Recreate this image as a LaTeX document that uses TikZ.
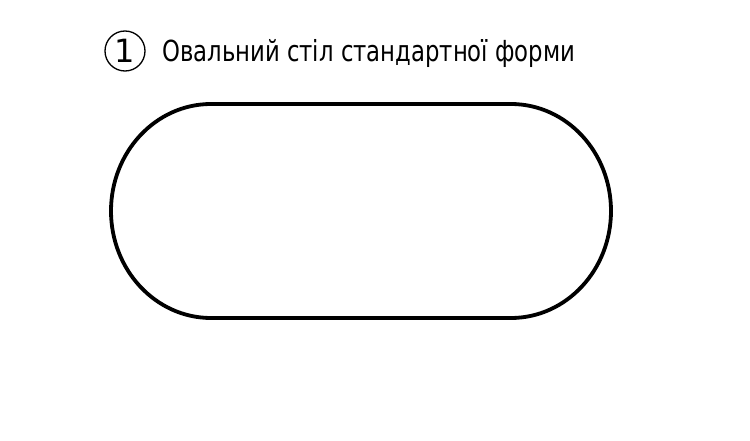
\documentclass[tikz,border=0pt]{standalone}
\usepackage{fontspec}
\setmainfont{DejaVu Sans}
\usetikzlibrary{positioning}
\tikzset{
	marker/.style={draw, circle, line width=1.3pt, minimum size=40pt, inner sep=0pt, font=\fontsize{32}{32}\selectfont},
	title/.style={anchor=base west, inner sep=0pt, font=\fontsize{29}{29}\selectfont},
	table/.style={line width=3.8pt}
}
\begin{document}
\begin{tikzpicture}[x=1pt, y=-1pt]
	\useasboundingbox (0,0) rectangle (750,441);
	%label
	\node[marker] (num) at (125,51) {1};
	\node[title] (name) at (162,62) {\scalebox{0.785}[1]{Овальний стіл стандартної форми}};
	%oval
	\draw[table] (211,104) -- (511,104)
		arc[start angle=-90, end angle=90, x radius=100, y radius=107]
		-- (211,318)
		arc[start angle=90, end angle=270, x radius=100, y radius=107]
		-- cycle;
\end{tikzpicture}
\end{document}
